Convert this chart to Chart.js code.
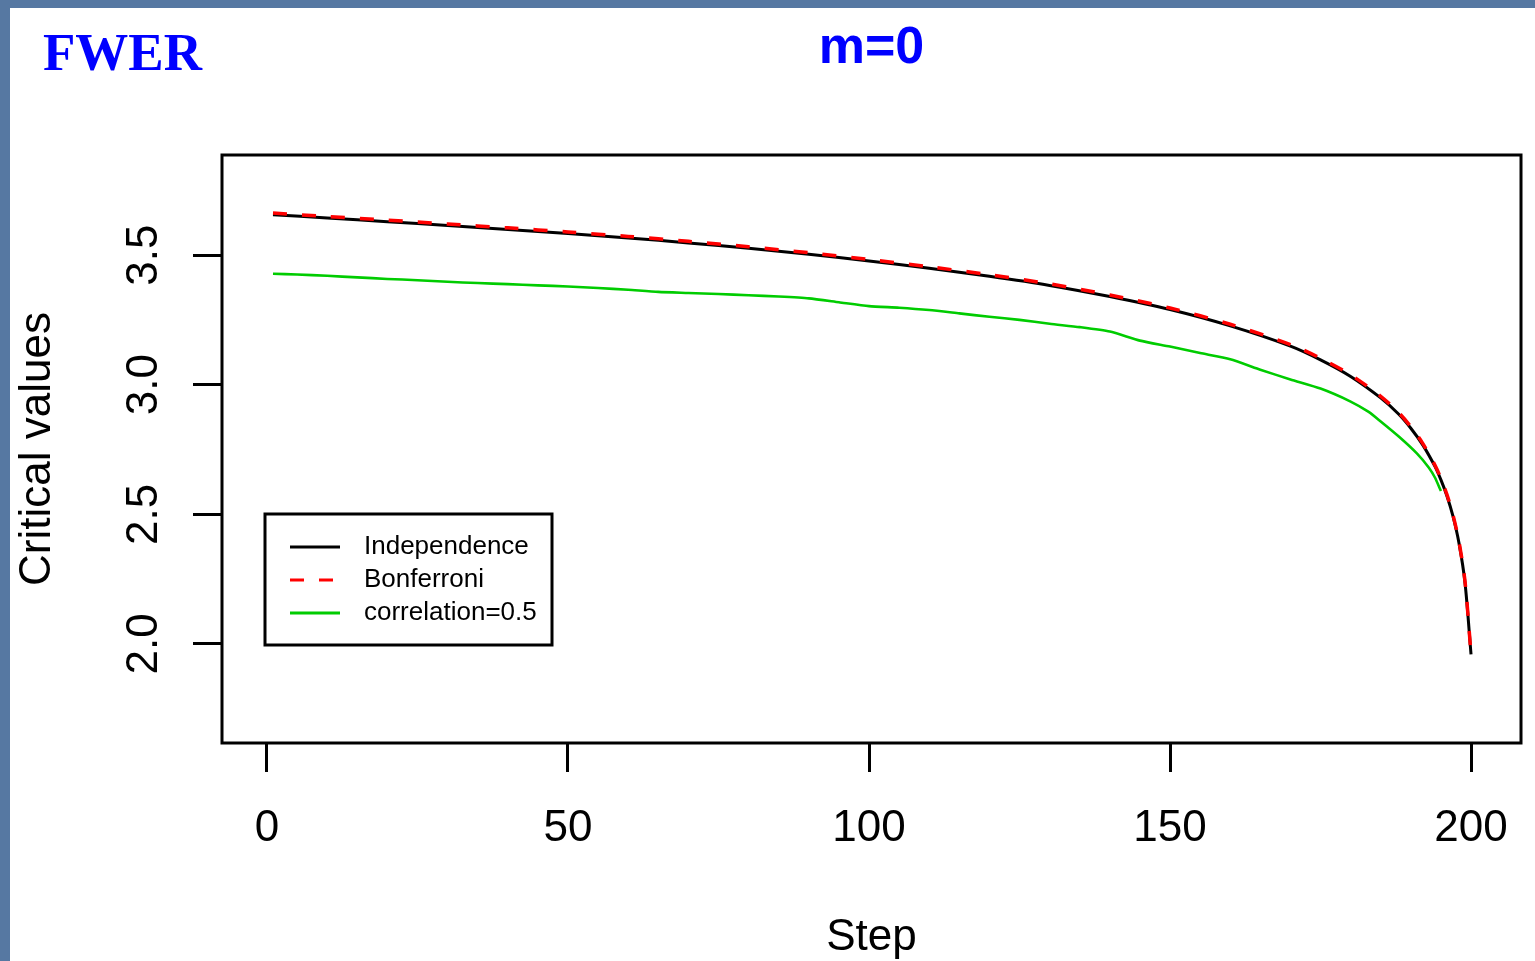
<!DOCTYPE html>
<html><head><meta charset="utf-8">
<script src="https://cdn.jsdelivr.net/npm/chart.js@4.4.1/dist/chart.umd.min.js"></script>
<style>
html,body{margin:0;padding:0;background:#5678a2;width:1535px;height:961px;overflow:hidden}
#paper{position:absolute;left:10px;top:8px;width:1525px;height:953px;background:#ffffff}
#c{position:absolute;left:0;top:0}
</style></head><body>
<div id="paper"></div>
<canvas id="c" width="1535" height="961"></canvas>
<script>
// ---- data ----
const pageHeading = 'FWER';
const chartTitle = 'm=0';
const xAxisTitle = 'Step';
const yAxisTitle = 'Critical values';
const xTickValues = [0, 50, 100, 150, 200];
const yTickValues = [2.0, 2.5, 3.0, 3.5];
const seriesNames = ['Independence', 'Bonferroni', 'correlation=0.5'];

const steps = [1, 10, 20, 30, 40, 50, 60, 70, 80, 90, 100, 110, 120, 130, 140, 150, 160, 170, 175, 180, 185, 188, 190, 192, 194, 195, 196, 197, 198, 199, 200];
const independence = [3.656, 3.643, 3.629, 3.614, 3.599, 3.583, 3.566, 3.547, 3.526, 3.503, 3.477, 3.449, 3.418, 3.383, 3.340, 3.290, 3.227, 3.149, 3.096, 3.032, 2.949, 2.886, 2.832, 2.767, 2.685, 2.633, 2.571, 2.493, 2.389, 2.236, 1.960];
const bonferroni = [3.662, 3.649, 3.635, 3.620, 3.605, 3.589, 3.572, 3.553, 3.532, 3.509, 3.483, 3.455, 3.424, 3.389, 3.346, 3.296, 3.233, 3.155, 3.102, 3.038, 2.955, 2.892, 2.838, 2.773, 2.690, 2.638, 2.576, 2.498, 2.394, 2.241, 1.960];

const corrSteps = [1, 5, 10, 15, 20, 25, 30, 35, 40, 45, 50, 55, 60, 65, 70, 75, 80, 85, 90, 95, 100, 105, 110, 115, 120, 125, 130, 135, 140, 145, 150, 155, 160, 165, 170, 175, 180, 183, 185, 188, 191, 193, 194, 195];
const correlation05 = [3.428, 3.425, 3.420, 3.414, 3.408, 3.403, 3.397, 3.392, 3.388, 3.383, 3.379, 3.373, 3.366, 3.358, 3.354, 3.350, 3.345, 3.340, 3.333, 3.318, 3.303, 3.297, 3.288, 3.275, 3.262, 3.250, 3.235, 3.222, 3.205, 3.170, 3.147, 3.122, 3.098, 3.058, 3.020, 2.985, 2.935, 2.895, 2.858, 2.800, 2.735, 2.680, 2.642, 2.590];

// ---- helpers ----
const pts = (xs, ys) => xs.map((x, i) => ({x: x, y: ys[i]}));
const SANS = "'Liberation Sans', Arial, sans-serif";

const decorPlugin = {
  id: 'decor',
  afterDraw(chart) {
    const ctx = chart.ctx;
    const a = chart.chartArea;
    const xs = chart.scales.x, ys = chart.scales.y;
    ctx.save();
    // plot box
    ctx.strokeStyle = '#000';
    ctx.lineWidth = 3;
    ctx.strokeRect(a.left, a.top, a.right - a.left, a.bottom - a.top);

    // headings
    ctx.fillStyle = '#0000ff';
    ctx.textBaseline = 'alphabetic';
    ctx.textAlign = 'left';
    ctx.font = "bold 53px 'Liberation Serif', 'Times New Roman', serif";
    ctx.fillText(pageHeading, 43, 70);
    ctx.textAlign = 'center';
    ctx.font = "bold 52px " + SANS;
    ctx.fillText(chartTitle, (a.left + a.right) / 2, 63);

    // x tick labels
    ctx.fillStyle = '#000';
    ctx.font = "44px " + SANS;
    ctx.textAlign = 'center';
    xTickValues.forEach(v => {
      ctx.fillText(String(v), xs.getPixelForValue(v), 841);
    });
    // x title
    ctx.fillText(xAxisTitle, (a.left + a.right) / 2, 950);

    // y tick labels (rotated)
    yTickValues.forEach(v => {
      ctx.save();
      ctx.translate(157, ys.getPixelForValue(v));
      ctx.rotate(-Math.PI / 2);
      ctx.textAlign = 'center';
      ctx.fillText(v.toFixed(1), 0, 0);
      ctx.restore();
    });
    // y title
    ctx.save();
    ctx.translate(50, (a.top + a.bottom) / 2);
    ctx.rotate(-Math.PI / 2);
    ctx.textAlign = 'center';
    ctx.fillText(yAxisTitle, 0, 0);
    ctx.restore();

    // legend
    const lx = 265, ly = 514, lw = 287, lh = 131;
    ctx.fillStyle = '#fff';
    ctx.fillRect(lx, ly, lw, lh);
    ctx.strokeStyle = '#000';
    ctx.lineWidth = 3;
    ctx.strokeRect(lx, ly, lw, lh);
    const ds = chart.data.datasets;
    const legendOrder = [2, 0, 1];
    const rowY = [547, 580, 613];
    legendOrder.forEach((di, r) => {
      const d = ds[di];
      ctx.save();
      ctx.strokeStyle = d.borderColor;
      ctx.lineWidth = 3;
      ctx.setLineDash(d.borderDash || []);
      ctx.beginPath();
      ctx.moveTo(290, rowY[r]);
      ctx.lineTo(340, rowY[r]);
      ctx.stroke();
      ctx.restore();
      ctx.fillStyle = '#000';
      ctx.font = "26px " + SANS;
      ctx.textAlign = 'left';
      ctx.textBaseline = 'middle';
      ctx.fillText(d.label, 364, rowY[r]);
    });
    ctx.restore();
  }
};

new Chart(document.getElementById('c'), {
  type: 'line',
  data: {
    datasets: [
      {label: seriesNames[1], data: pts(steps, bonferroni), borderColor: '#ff0000', borderWidth: 3.5, borderDash: [14, 15], pointRadius: 0, tension: 0.3, order: 0},
      {label: seriesNames[2], data: pts(corrSteps, correlation05), borderColor: '#00cc00', borderWidth: 2.6, pointRadius: 0, tension: 0.2, order: 1},
      {label: seriesNames[0], data: pts(steps, independence), borderColor: '#000000', borderWidth: 3, pointRadius: 0, tension: 0.3, order: 2}
    ]
  },
  options: {
    responsive: false,
    animation: false,
    devicePixelRatio: 1,
    layout: {padding: {top: 155, right: 14, left: 0, bottom: 0}},
    plugins: {legend: {display: false}, tooltip: {enabled: false}, title: {display: false}},
    scales: {
      x: {
        type: 'linear', min: -7.47, max: 208.3,
        afterBuildTicks: s => { s.ticks = xTickValues.map(v => ({value: v})); },
        afterFit: s => { s.height = 218; },
        ticks: {display: false},
        grid: {display: true, drawOnChartArea: false, drawTicks: true, tickLength: 29, tickWidth: 3, tickColor: '#000'},
        border: {display: false}
      },
      y: {
        type: 'linear', min: 1.618, max: 3.886,
        afterBuildTicks: s => { s.ticks = yTickValues.map(v => ({value: v})); },
        afterFit: s => { s.width = 222; },
        ticks: {display: false},
        grid: {display: true, drawOnChartArea: false, drawTicks: true, tickLength: 29, tickWidth: 3, tickColor: '#000'},
        border: {display: false}
      }
    }
  },
  plugins: [decorPlugin]
});
</script>
</body></html>
